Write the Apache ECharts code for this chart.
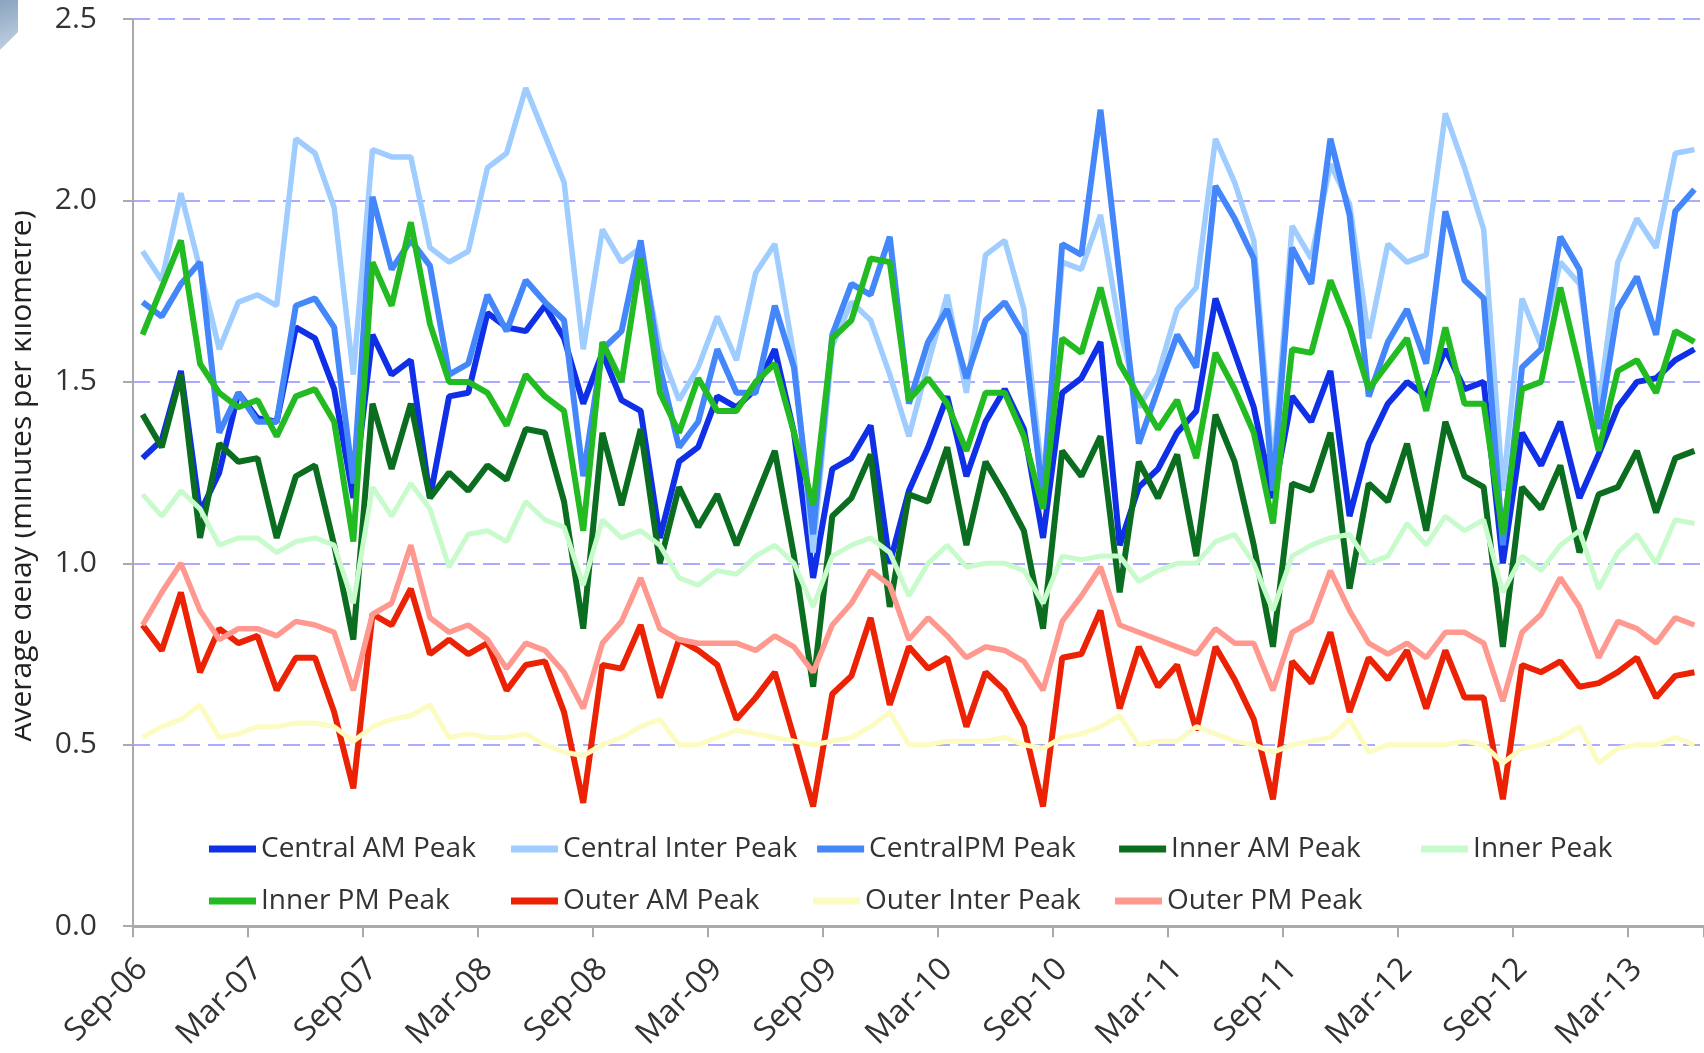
<!DOCTYPE html>
<html>
<head>
<meta charset="utf-8">
<script src="https://cdn.jsdelivr.net/npm/echarts@6/dist/echarts.min.js"></script>
<style>
  html, body { margin: 0; padding: 0; background: #fff; }
  #chart { width: 1704px; height: 1053px; }
</style>
</head>
<body>
<div id="chart"></div>
<script>
// months Sep-06 .. Jun-13
var months = [
  'Sep-06','Oct-06','Nov-06','Dec-06','Jan-07','Feb-07','Mar-07','Apr-07','May-07','Jun-07','Jul-07','Aug-07',
  'Sep-07','Oct-07','Nov-07','Dec-07','Jan-08','Feb-08','Mar-08','Apr-08','May-08','Jun-08','Jul-08','Aug-08',
  'Sep-08','Oct-08','Nov-08','Dec-08','Jan-09','Feb-09','Mar-09','Apr-09','May-09','Jun-09','Jul-09','Aug-09',
  'Sep-09','Oct-09','Nov-09','Dec-09','Jan-10','Feb-10','Mar-10','Apr-10','May-10','Jun-10','Jul-10','Aug-10',
  'Sep-10','Oct-10','Nov-10','Dec-10','Jan-11','Feb-11','Mar-11','Apr-11','May-11','Jun-11','Jul-11','Aug-11',
  'Sep-11','Oct-11','Nov-11','Dec-11','Jan-12','Feb-12','Mar-12','Apr-12','May-12','Jun-12','Jul-12','Aug-12',
  'Sep-12','Oct-12','Nov-12','Dec-12','Jan-13','Feb-13','Mar-13','Apr-13','May-13','Jun-13'
];

var seriesNames = ['Central AM Peak', 'Central Inter Peak', 'CentralPM Peak', 'Inner AM Peak', 'Inner Peak',
  'Inner PM Peak', 'Outer AM Peak', 'Outer Inter Peak', 'Outer PM Peak'];

var centralAM = [1.29,1.34,1.53,1.14,1.25,1.47,1.40,1.39,1.65,1.62,1.48,1.18,1.63,1.52,1.56,1.18,1.46,
  1.47,1.69,1.65,1.64,1.71,1.62,1.44,1.58,1.45,1.42,1.07,1.28,1.32,1.46,1.43,1.48,
  1.59,1.36,0.96,1.26,1.29,1.38,1.00,1.20,1.32,1.46,1.24,1.39,1.48,1.37,1.07,1.47,
  1.51,1.61,1.05,1.21,1.26,1.36,1.42,1.73,1.58,1.43,1.18,1.46,1.39,1.53,1.13,1.33,
  1.44,1.50,1.46,1.59,1.48,1.50,1.00,1.36,1.27,1.39,1.18,1.30,1.43,1.50,1.51,1.56,1.59];
var centralInter = [1.86,1.78,2.02,1.81,1.59,1.72,1.74,1.71,2.17,2.13,1.98,1.52,2.14,2.12,2.12,1.87,1.83,
  1.86,2.09,2.13,2.31,2.18,2.05,1.59,1.92,1.83,1.87,1.59,1.45,1.54,1.68,1.56,1.80,
  1.88,1.57,1.03,1.60,1.72,1.67,1.52,1.35,1.55,1.74,1.47,1.85,1.89,1.70,1.22,1.83,
  1.81,1.96,1.65,1.43,1.52,1.70,1.76,2.17,2.05,1.89,1.25,1.93,1.84,2.10,1.99,1.62,
  1.88,1.83,1.85,2.24,2.09,1.92,1.20,1.73,1.60,1.83,1.77,1.43,1.83,1.95,1.87,2.13,2.14];
var centralPM = [1.72,1.68,1.77,1.83,1.36,1.47,1.39,1.39,1.71,1.73,1.65,1.22,2.01,1.81,1.89,1.82,1.52,
  1.55,1.74,1.64,1.78,1.72,1.67,1.24,1.59,1.64,1.89,1.54,1.32,1.39,1.59,1.47,1.47,
  1.71,1.54,1.08,1.63,1.77,1.74,1.90,1.44,1.61,1.70,1.51,1.67,1.72,1.63,1.18,1.88,
  1.85,2.25,1.79,1.33,1.48,1.63,1.54,2.04,1.95,1.84,1.20,1.87,1.77,2.17,1.96,1.46,
  1.61,1.70,1.55,1.97,1.78,1.73,1.05,1.54,1.59,1.90,1.81,1.37,1.70,1.79,1.63,1.97,2.03];
var innerAM = [1.41,1.32,1.52,1.07,1.33,1.28,1.29,1.07,1.24,1.27,1.05,0.79,1.44,1.26,1.44,1.18,1.25,
  1.20,1.27,1.23,1.37,1.36,1.17,0.82,1.36,1.16,1.37,1.00,1.21,1.10,1.19,1.05,1.18,
  1.31,1.02,0.66,1.13,1.18,1.30,0.88,1.19,1.17,1.32,1.05,1.28,1.19,1.09,0.82,1.31,
  1.24,1.35,0.92,1.28,1.18,1.30,1.02,1.41,1.28,1.05,0.77,1.22,1.20,1.36,0.93,1.22,
  1.17,1.33,1.09,1.39,1.24,1.21,0.77,1.21,1.15,1.27,1.03,1.19,1.21,1.31,1.14,1.29,1.31];
var innerInter = [1.19,1.13,1.20,1.15,1.05,1.07,1.07,1.03,1.06,1.07,1.05,0.89,1.21,1.13,1.22,1.15,0.99,
  1.08,1.09,1.06,1.17,1.12,1.10,0.94,1.12,1.07,1.09,1.05,0.96,0.94,0.98,0.97,1.02,
  1.05,1.00,0.88,1.02,1.05,1.07,1.03,0.91,1.00,1.05,0.99,1.00,1.00,0.98,0.89,1.02,
  1.01,1.02,1.02,0.95,0.98,1.00,1.00,1.06,1.08,1.00,0.87,1.02,1.05,1.07,1.08,1.00,
  1.02,1.11,1.05,1.13,1.09,1.12,0.92,1.02,0.98,1.05,1.09,0.93,1.03,1.08,1.00,1.12,1.11];
var innerPM = [1.63,1.76,1.89,1.55,1.47,1.43,1.45,1.35,1.46,1.48,1.39,1.06,1.83,1.71,1.94,1.66,1.50,
  1.50,1.47,1.38,1.52,1.46,1.42,1.09,1.61,1.50,1.84,1.47,1.36,1.51,1.42,1.42,1.50,
  1.55,1.36,1.16,1.62,1.67,1.84,1.83,1.45,1.51,1.44,1.31,1.47,1.47,1.35,1.15,1.62,
  1.58,1.76,1.55,1.46,1.37,1.45,1.29,1.58,1.48,1.36,1.11,1.59,1.58,1.78,1.65,1.48,
  1.55,1.62,1.42,1.65,1.44,1.44,1.08,1.48,1.50,1.76,1.54,1.31,1.53,1.56,1.47,1.64,1.61];
var outerAM = [0.83,0.76,0.92,0.70,0.82,0.78,0.80,0.65,0.74,0.74,0.59,0.38,0.86,0.83,0.93,0.75,0.79,
  0.75,0.78,0.65,0.72,0.73,0.59,0.34,0.72,0.71,0.83,0.63,0.79,0.76,0.72,0.57,0.63,
  0.70,0.52,0.33,0.64,0.69,0.85,0.61,0.77,0.71,0.74,0.55,0.70,0.65,0.55,0.33,0.74,
  0.75,0.87,0.60,0.77,0.66,0.72,0.54,0.77,0.68,0.57,0.35,0.73,0.67,0.81,0.59,0.74,
  0.68,0.76,0.60,0.76,0.63,0.63,0.35,0.72,0.70,0.73,0.66,0.67,0.70,0.74,0.63,0.69,0.70];
var outerInter = [0.52,0.55,0.57,0.61,0.52,0.53,0.55,0.55,0.56,0.56,0.55,0.51,0.55,0.57,0.58,0.61,0.52,
  0.53,0.52,0.52,0.53,0.50,0.48,0.47,0.50,0.52,0.55,0.57,0.50,0.50,0.52,0.54,0.53,
  0.52,0.51,0.50,0.51,0.52,0.55,0.59,0.50,0.50,0.51,0.51,0.51,0.52,0.50,0.49,0.52,
  0.53,0.55,0.58,0.50,0.51,0.51,0.55,0.53,0.51,0.50,0.48,0.50,0.51,0.52,0.57,0.48,
  0.50,0.50,0.50,0.50,0.51,0.50,0.45,0.49,0.50,0.52,0.55,0.45,0.49,0.50,0.50,0.52,0.50];
var outerPM = [0.83,0.92,1.00,0.87,0.79,0.82,0.82,0.80,0.84,0.83,0.81,0.65,0.86,0.89,1.05,0.85,0.81,
  0.83,0.79,0.71,0.78,0.76,0.70,0.60,0.78,0.84,0.96,0.82,0.79,0.78,0.78,0.78,0.76,
  0.80,0.77,0.70,0.83,0.89,0.98,0.94,0.79,0.85,0.80,0.74,0.77,0.76,0.73,0.65,0.84,
  0.91,0.99,0.83,0.81,0.79,0.77,0.75,0.82,0.78,0.78,0.65,0.81,0.84,0.98,0.87,0.78,
  0.75,0.78,0.74,0.81,0.81,0.78,0.62,0.81,0.86,0.96,0.88,0.74,0.84,0.82,0.78,0.85,0.83];

var allValues = [centralAM, centralInter, centralPM, innerAM, innerInter, innerPM, outerAM, outerInter, outerPM];
var colors = ['#1030e8', '#9fcdff', '#4387fb', '#0b6d1f', '#c8fbcb', '#22bb22', '#ec2205', '#fcfcc2', '#ff998f'];
var widths = [6, 5.5, 6, 6, 5, 6, 6, 5, 5.5];

var chart = echarts.init(document.getElementById('chart'));
var font = '"Open Sans", Lato, sans-serif';

var series = [];
for (var k = 0; k < seriesNames.length; k++) {
  series.push({
    name: seriesNames[k],
    type: 'line',
    data: allValues[k],
    symbol: 'none',
    lineStyle: { color: colors[k], width: widths[k] },
    itemStyle: { color: colors[k] },
    z: 2 + k
  });
}

var option = {
  backgroundColor: '#ffffff',
  animation: false,
  grid: { left: 133, right: 0, top: 19, bottom: 124, containLabel: false },
  xAxis: {
    type: 'category',
    data: months,
    boundaryGap: true,
    axisLine: { lineStyle: { color: '#aaaaaa', width: 3 } },
    axisTick: { show: true, interval: 5, length: 11, lineStyle: { color: '#aaaaaa', width: 2 } },
    axisLabel: {
      interval: 5, rotate: 45, margin: 38,
      fontFamily: font, fontSize: 32, color: '#333333'
    },
    splitLine: { show: false }
  },
  yAxis: {
    type: 'value',
    min: 0, max: 2.5, interval: 0.5,
    axisLine: { show: true, lineStyle: { color: '#aaaaaa', width: 2 } },
    axisTick: { show: true, length: 10, lineStyle: { color: '#aaaaaa', width: 2 } },
    axisLabel: {
      margin: 36, fontFamily: font, fontSize: 30, color: '#333333',
      formatter: function (v) { return v.toFixed(1); }
    },
    splitLine: { show: true, lineStyle: { color: '#aaaaff', width: 2, type: [17, 8] } }
  },
  legend: {
    data: seriesNames,
    left: 204, top: 828, width: 1500,
    orient: 'horizontal',
    icon: 'rect',
    itemWidth: 47, itemHeight: 7, itemGap: 20,
    textStyle: { fontFamily: font, fontSize: 28, color: '#333333', width: 230, lineHeight: 32 }
  },
  graphic: [
    {
      type: 'polygon',
      shape: { points: [[0, 0], [18, 0], [18, 32], [0, 50]] },
      style: {
        fill: new echarts.graphic.LinearGradient(0, 0, 1, 1, [
          { offset: 0, color: '#8aa3bf' },
          { offset: 1, color: '#c4d3e3' }
        ])
      }
    },
    {
      type: 'text',
      x: 22, y: 476,
      rotation: Math.PI / 2,
      style: {
        text: 'Average delay (minutes per kilometre)',
        fontFamily: font, fontSize: 30, fill: '#222222',
        textAlign: 'center', textVerticalAlign: 'middle'
      }
    },
    {
      // the reference image cuts the left part of the rotated title
      type: 'rect',
      shape: { x: 0, y: 120, width: 15, height: 700 },
      style: { fill: '#ffffff' },
      z: 100
    }
  ],
  series: series
};

chart.setOption(option);
</script>
</body>
</html>
